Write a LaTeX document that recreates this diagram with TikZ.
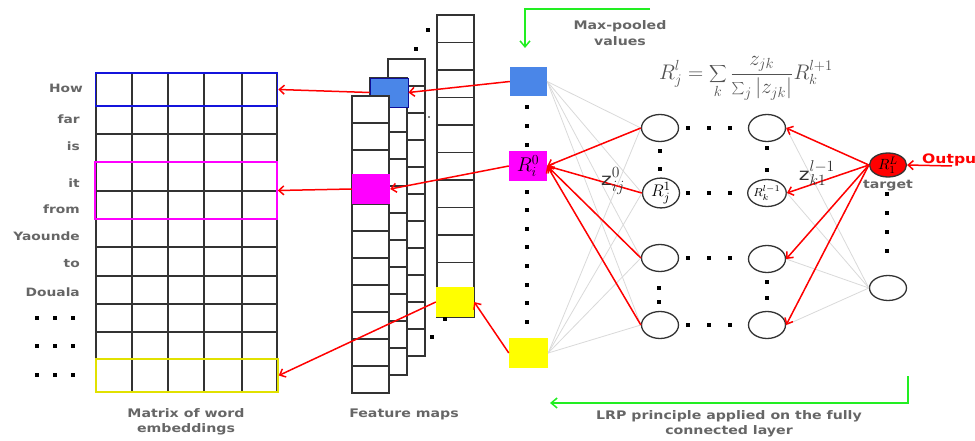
\documentclass[tikz,border=0pt]{standalone}
\usepackage{fontspec}
\newfontfamily\lblfont[FakeStretch=1.2]{DejaVu Sans}
\usetikzlibrary{shapes.geometric,arrows.meta}
\definecolor{lblgray}{HTML}{666666}
\definecolor{fmblue}{HTML}{4A86E8}
\definecolor{fmmag}{RGB}{255,0,255}
\definecolor{fmyel}{RGB}{255,255,0}
\definecolor{frblue}{RGB}{20,20,220}
\definecolor{fryel}{RGB}{225,225,0}
\definecolor{lrpgreen}{HTML}{22EE22}

\begin{document}
\begin{tikzpicture}[x=1pt,y=-1pt,
cell/.style={draw=black!80, line width=1.1pt, fill=white},
word/.style={font=\lblfont\bfseries\fontsize{11.5}{12}\selectfont, text=lblgray, anchor=east, inner sep=0},
caption/.style={font=\lblfont\bfseries\fontsize{11.8}{15.5}\selectfont, text=lblgray, align=center, inner sep=0},
frame/.style={draw=#1, line width=1.5pt, minimum width=182, inner sep=0},
sq/.style={fill=#1, minimum width=38, minimum height=30, inner sep=0},
neuron/.style={ellipse, draw=black!80, line width=1.3pt, minimum width=37, minimum height=27, inner sep=0},
relev/.style={red, line width=1.5pt, -{Straight Barb[length=5pt,width=9pt]}},
weak/.style={black!15, line width=0.8pt},
flow/.style={lrpgreen, line width=1.5pt, -{Straight Barb[length=6pt,width=10pt]}}]
\useasboundingbox (0,0) rectangle (975,441);

% word embeddings
\foreach \y in {73,106,134,162,191,219,247,276,304,332,359,392}
   \draw[cell] (96,\y) -- (277,\y);
\foreach \x in {96,132,168,204,242,277}
   \draw[cell] (\x,73) -- (\x,392);
\node[frame=frblue, minimum height=33] (embBlue) at (186.5,89.5) {};
\node[frame=fmmag, minimum height=57] (embPink) at (186,190.5) {};
\node[frame=fryel, minimum height=33] (embYel) at (187,375.5) {};
\node[word] (wHow) at (83,88) {How};
\node[word] (wFar) at (80,119) {far};
\node[word] (wIs) at (80,146) {is};
\node[word] (wIt) at (80,183) {it};
\node[word] (wFrom) at (80,209) {from};
\node[word] (wYao) at (80,236) {Yaounde};
\node[word] (wTo) at (80,264) {to};
\node[word] (wDou) at (80,292) {Douala};
\foreach \y in {318,346,375}
   \foreach \x in {37,55,73}
      \fill (\x-2,\y-2) rectangle +(4,4);
\node[caption] (capEmb) at (186,422) {Matrix of word\\embeddings};

% feature maps
\foreach \x/\t/\h in {437/15/27.5,388/59/27,370/78/27}
   \foreach \r in {0,...,10}
      \draw[cell] (\x,{\t+\h*\r}) rectangle +(37,\h);
\node[sq=fmblue, draw=frblue!70!black, line width=0.8pt, minimum height=29] (fmBlue) at (389,92.5) {};
\foreach \r in {0,...,10}
   \draw[cell] (352,{96+27*\r}) rectangle +(37,27);
\node[sq=fmmag] (fmMag) at (371,189) {};
\node[sq=fmyel] (fmYel) at (455,302) {};
\foreach \x/\y in {428/30,416/49,445/319,432/337}
   \fill (\x-2,\y-2) rectangle +(4,4);
\fill (429,117) circle (0.8);
\node[caption] (capFm) at (404,414) {Feature maps};

% max pooled values
\node[sq=fmblue, minimum width=37, minimum height=29] (mpBlue) at (528.5,81.5) {};
\node[sq=fmmag, font=\fontsize{17}{17}\selectfont] (mpMag) at (528,166) {\scalebox{1.15}{$R_i^0$}};
\node[sq=fmyel, minimum width=39] (mpYel) at (528.5,353) {};
\foreach \y in {107,126,145,192,210,229,247,266,285,303,322}
   \fill (525,\y-2) rectangle +(4,4);
\node[caption] (capMp) at (620,33) {Max-pooled\\values};
\coordinate (gTop) at (650,9);
\coordinate (mpIn) at (525,48);
\draw[flow] (gTop) -| (mpIn);

% fully connected layers
\node[neuron] (a1) at (660,128) {};
\node[neuron, font=\fontsize{13}{13}\selectfont] (a2) at (661,193) {\scalebox{1.4}{$R_j^1$}};
\node[neuron] (a3) at (660,258) {};
\node[neuron] (a4) at (660,325) {};
\node[neuron] (b1) at (767,128) {};
\node[neuron, font=\fontsize{8.5}{8.5}\selectfont] (b2) at (767,193) {\scalebox{1.45}{$R_k^{l-1}$}};
\node[neuron] (b3) at (767,259) {};
\node[neuron] (b4) at (767,325) {};
\node[neuron, fill=red, minimum height=24, font=\fontsize{11}{11}\selectfont] (target) at (888,165) {\scalebox{1.35}{$R_1^L$}};
\node[neuron, minimum height=25] (o2) at (888,288) {};
\node[caption] (capTarget) at (888,186) {target};
\foreach \y in {128,193,258,325}
   \foreach \x in {688,709,730}
      \fill (\x-2,\y-2) rectangle +(4,4);
\foreach \x/\y in {660/151,660/169,767/148,767/170,659/288,659/302,767/282,767/298,887/194,887/213,887/232,887/251}
   \fill (\x-2,\y-2) rectangle +(4,4);
\node[text=lblgray!80!black, font=\fontsize{17}{17}\selectfont] (rule) at (746,78) {\scalebox{1.22}{$\displaystyle R_j^{l}=\sum_k\frac{z_{jk}}{\sum_j|z_{jk}|}R_k^{l+1}$}};

\foreach \n in {a1,a2,a3,a4} {
   \draw[weak] (mpBlue.east) -- (\n.west);
   \draw[weak] (mpMag.east) -- (\n.west);
   \draw[weak] (mpYel.east) -- (\n.west);
}
\foreach \n in {b1,b2,b3,b4} {
   \draw[weak] (\n.east) -- (target.west);
   \draw[weak] (\n.east) -- (o2.west);
}

% relevance flow
\foreach \n in {b1,b2,b3,b4}
   \draw[relev] (target.west) -- (\n.east);
\foreach \n in {a1,a2,a3,a4}
   \draw[relev] (\n.west) -- (mpMag.east);
\node[text=black!80, font=\lblfont\fontsize{17}{17}\selectfont, inner sep=0] (zLow) at (613,181) {z\scalebox{1.3}{$_{ij}^{0}$}};
\node[text=black!80, font=\lblfont\fontsize{17}{17}\selectfont, inner sep=0] (zHigh) at (817,173) {z\scalebox{1.3}{$_{k1}^{l-1}$}};
\node[red, anchor=west, font=\lblfont\bfseries\fontsize{13}{13}\selectfont, inner sep=0] (outTxt) at (922,160) {Output};
\coordinate (outTail) at (952,166);
\draw[relev] (outTail) -- (target.east);

\draw[relev] (mpBlue.west) -- (fmBlue.east);
\draw[relev] (fmBlue.west) -- (embBlue.east);
\draw[relev] (mpMag.west) -- (fmMag.east);
\draw[relev] (fmMag.west) -- (embPink.east);
\draw[relev] (mpYel.west) -- (fmYel.east);
\draw[relev] (fmYel.west) -- (embYel.east);

\coordinate (lrpTop) at (908,376);
\coordinate (lrpEnd) at (550,403);
\draw[flow] (lrpTop) |- (lrpEnd);
\node[caption] (capLrp) at (729,424) {LRP principle applied on the fully\\connected layer};
\end{tikzpicture}
\end{document}
